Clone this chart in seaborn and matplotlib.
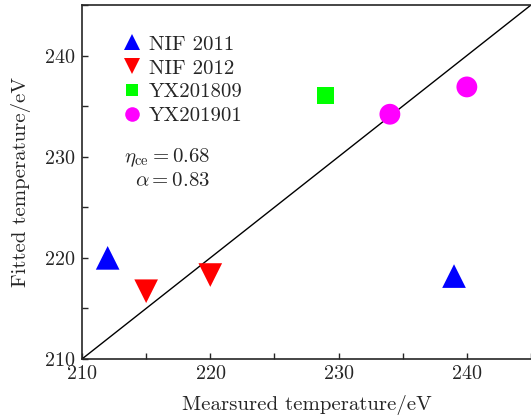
import numpy as np
import pandas as pd
import seaborn as sns
import matplotlib.pyplot as plt
from matplotlib.ticker import MultipleLocator

# values
groups = ['NIF 2011', 'NIF 2011', 'NIF 2012', 'NIF 2012', 'YX201809', 'YX201901', 'YX201901']
measured = [212.0, 239.0, 215.0, 220.0, 229.0, 234.0, 240.0]
fitted = [220.0, 218.2, 216.7, 218.3, 236.1, 234.2, 236.9]

order = ['NIF 2011', 'NIF 2012', 'YX201809', 'YX201901']
colors = {'NIF 2011': '#0000ff', 'NIF 2012': '#ff0000', 'YX201809': '#00ff00', 'YX201901': '#ff00ff'}
markers = {'NIF 2011': '^', 'NIF 2012': 'v', 'YX201809': 's', 'YX201901': 'o'}
sizes = {'NIF 2011': 290, 'NIF 2012': 290, 'YX201809': 150, 'YX201901': 225}

lims = [210, 245]

df = pd.DataFrame({'group': groups, 'measured': measured, 'fitted': fitted})

sns.set_style('ticks')
plt.rcParams['font.family'] = 'serif'
plt.rcParams['font.serif'] = ['cmr10', 'DejaVu Serif']
plt.rcParams['mathtext.fontset'] = 'cm'
plt.rcParams['axes.formatter.use_mathtext'] = True

fig = plt.figure(figsize=(5.31, 4.16), dpi=100)
ax = fig.add_axes([82 / 531, 57 / 416, 449 / 531, 354 / 416])

ax.plot(lims, lims, color='black', lw=1.0, zorder=1)
sns.scatterplot(data=df, x='measured', y='fitted', hue='group', style='group', size='group',
                hue_order=order, style_order=order, size_order=order,
                palette=colors, markers=markers, sizes=sizes,
                linewidth=0, ax=ax, zorder=3)

ax.set_xlim(lims)
ax.set_ylim(lims)
ax.xaxis.set_major_locator(MultipleLocator(10))
ax.yaxis.set_major_locator(MultipleLocator(10))
ax.xaxis.set_minor_locator(MultipleLocator(5))
ax.yaxis.set_minor_locator(MultipleLocator(5))
ax.tick_params(which='both', direction='in', length=4, width=1, labelsize=14.5)
ax.tick_params(axis='x', pad=4)
ax.tick_params(axis='y', pad=5)
for s in ax.spines.values():
    s.set_linewidth(1.2)
ax.spines['right'].set_visible(False)

ax.set_xlabel('Mearsured temperature/eV', fontsize=15, labelpad=9)
ax.set_ylabel('Fitted temperature/eV', fontsize=15, labelpad=9)

h, l = ax.get_legend_handles_labels()
ax.legend(h, l, loc='upper left', bbox_to_anchor=(0.06, 0.95), frameon=False, fontsize=15,
          markerscale=0.7, handlelength=1.0, handletextpad=0.3, labelspacing=0.25,
          borderaxespad=0.2)

ax.text(0.285, 0.568, r'$\eta_{\rm ce}=0.68$', transform=ax.transAxes, ha='right', va='center', fontsize=15)
ax.text(0.285, 0.503, r'$\alpha=0.83$', transform=ax.transAxes, ha='right', va='center', fontsize=15)

fig.savefig('out.png', dpi=100)
